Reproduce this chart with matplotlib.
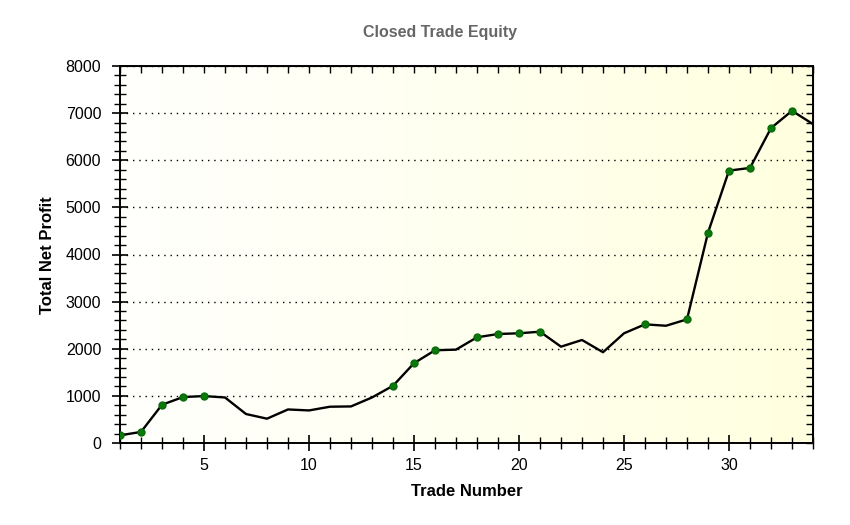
import numpy as np
import matplotlib.pyplot as plt
from matplotlib.colors import LinearSegmentedColormap
from matplotlib.ticker import MultipleLocator

plt.rcParams['font.family'] = ['Liberation Sans', 'DejaVu Sans']

trades = np.arange(1, 35)
equity = [163, 235, 812, 975, 996, 966, 615, 516, 712, 691,
          770, 776, 966, 1214, 1693, 1968, 1981, 2243, 2313, 2328,
          2362, 2044, 2186, 1926, 2328, 2518, 2488, 2624, 4463, 5780,
          5837, 6683, 7049, 6767]
marked = [1, 2, 3, 4, 5, 14, 15, 16, 18, 19, 20, 21, 26, 28, 29, 30, 31, 32, 33]

fig = plt.figure(figsize=(8.5, 5.25), dpi=100)
ax = fig.add_axes([120 / 850, 1 - 443 / 525, 693 / 850, 377 / 525])

# background gradient, white to pale yellow
cmap = LinearSegmentedColormap.from_list('bg', [(1, 1, 0.99), (1, 1, 0.94), (1, 1, 0.875)])
grad = np.linspace(0, 1, 256).reshape(1, -1)
ax.imshow(grad, cmap=cmap, aspect='auto', extent=[0, 1, 0, 1],
          transform=ax.transAxes, zorder=0)

ax.plot(trades, equity, color='black', lw=1.7, zorder=3)
my = [equity[i - 1] for i in marked]
ax.plot(marked, my, 'o', color='#0a7a0a', ms=5, mec='#0a6a0a', zorder=4)

ax.set_xlim(1, 34)
ax.set_ylim(0, 8000)
ax.xaxis.set_major_locator(MultipleLocator(5))
ax.xaxis.set_minor_locator(MultipleLocator(1))
ax.yaxis.set_major_locator(MultipleLocator(1000))
ax.yaxis.set_minor_locator(MultipleLocator(200))
ax.yaxis.grid(True, which='major', color='black', lw=1, ls=(0, (1, 3.5)))
ax.set_axisbelow(False)

ax.tick_params(which='major', direction='inout', length=11, width=1.2, labelsize=11.5)
ax.tick_params(axis='y', which='major', pad=8)
ax.tick_params(axis='x', which='major', pad=5)
ax.tick_params(which='minor', direction='inout', length=8, width=1)
for s in ax.spines.values():
    s.set_linewidth(1.4)

top = ax.secondary_xaxis('top')
top.xaxis.set_major_locator(MultipleLocator(1))
top.tick_params(direction='in', length=5, width=1, labeltop=False)
right = ax.secondary_yaxis('right')
right.yaxis.set_major_locator(MultipleLocator(200))
right.tick_params(direction='in', length=5, width=1, labelright=False)

fig.text(440 / 850, 1 - 33 / 525, 'Closed Trade Equity', ha='center', va='center',
         fontsize=11.5, fontweight='bold', color='#666666')
fig.text(467 / 850, 1 - 491 / 525, 'Trade Number', ha='center', va='center',
         fontsize=12, fontweight='bold')
fig.text(47 / 850, 1 - 255 / 525, 'Total Net Profit', ha='center', va='center',
         rotation=90, fontsize=12, fontweight='bold')

fig.savefig('out.png', dpi=100, facecolor='white')
